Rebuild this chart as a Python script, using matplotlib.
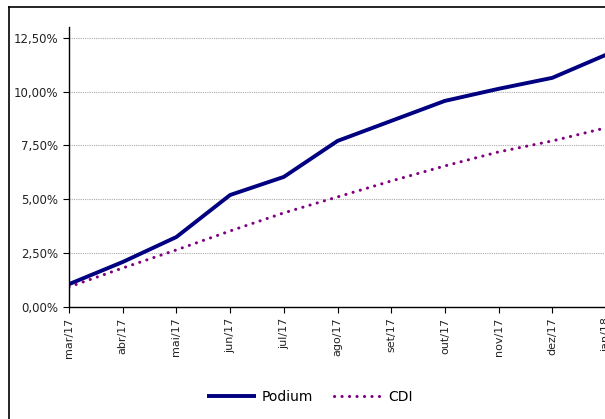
import matplotlib
matplotlib.use('Agg')
import matplotlib.pyplot as plt
from matplotlib.lines import Line2D
from matplotlib.ticker import FuncFormatter

# dados
meses = ['mar/17', 'abr/17', 'mai/17', 'jun/17', 'jul/17', 'ago/17',
         'set/17', 'out/17', 'nov/17', 'dez/17', 'jan/18']
podium = [1.06, 2.09, 3.25, 5.20, 6.04, 7.71, 8.64, 9.57, 10.13, 10.64, 11.71]
cdi = [0.93, 1.81, 2.65, 3.53, 4.37, 5.11, 5.85, 6.55, 7.20, 7.71, 8.32]

W, H = 605, 419
fig = plt.figure(figsize=(W / 100, H / 100), dpi=100)

# área do gráfico: sai pela direita da imagem (como no original recortado)
passo = 53.7
x0 = 69
ax = fig.add_axes([x0 / W, 1 - 307 / H, 10.6 * passo / W, 280 / H])
x = list(range(len(meses)))
l1, = ax.plot(x, podium, color='#000080', lw=2.8, solid_capstyle='butt', label='Podium')
l2, = ax.plot(x, cdi, color='#800080', lw=2.2, linestyle=(0, (0.05, 2.4)),
              dash_capstyle='round', label='CDI')

ax.set_xlim(0, 10.6)
ax.set_ylim(0, 13.0)
ax.set_yticks([0, 2.5, 5, 7.5, 10, 12.5])
ax.yaxis.set_major_formatter(FuncFormatter(lambda v, p: ('%.2f%%' % v).replace('.', ',')))
ax.set_xticks(x)
ax.set_xticklabels(meses, rotation=90, fontsize=8, color='#222222')
ax.tick_params(axis='y', labelsize=8.5, length=4, direction='out', colors='black',
               labelcolor='#222222')
ax.tick_params(axis='x', length=4, direction='out')
ax.grid(axis='y', color='#aaaaaa', linestyle=(0, (1, 1)), linewidth=0.8)
ax.set_axisbelow(True)
for s in ['top', 'right']:
    ax.spines[s].set_visible(False)
ax.spines['left'].set_linewidth(1.0)
ax.spines['bottom'].set_linewidth(1.0)

# legenda em baixo
fig.legend(handles=[l1, l2], loc='center', bbox_to_anchor=(310 / W, 1 - 397 / H),
           ncol=2, frameon=False, fontsize=10, handlelength=3.5, columnspacing=1.5,
           handletextpad=0.4)

# moldura do gráfico (recortada)
fig.add_artist(Line2D([9 / W, 9 / W], [0, 1 - 7 / H], color='black', lw=1.2))
fig.add_artist(Line2D([9 / W, 1], [1 - 7 / H, 1 - 7 / H], color='black', lw=1.2))

fig.savefig('out.png', dpi=100)
